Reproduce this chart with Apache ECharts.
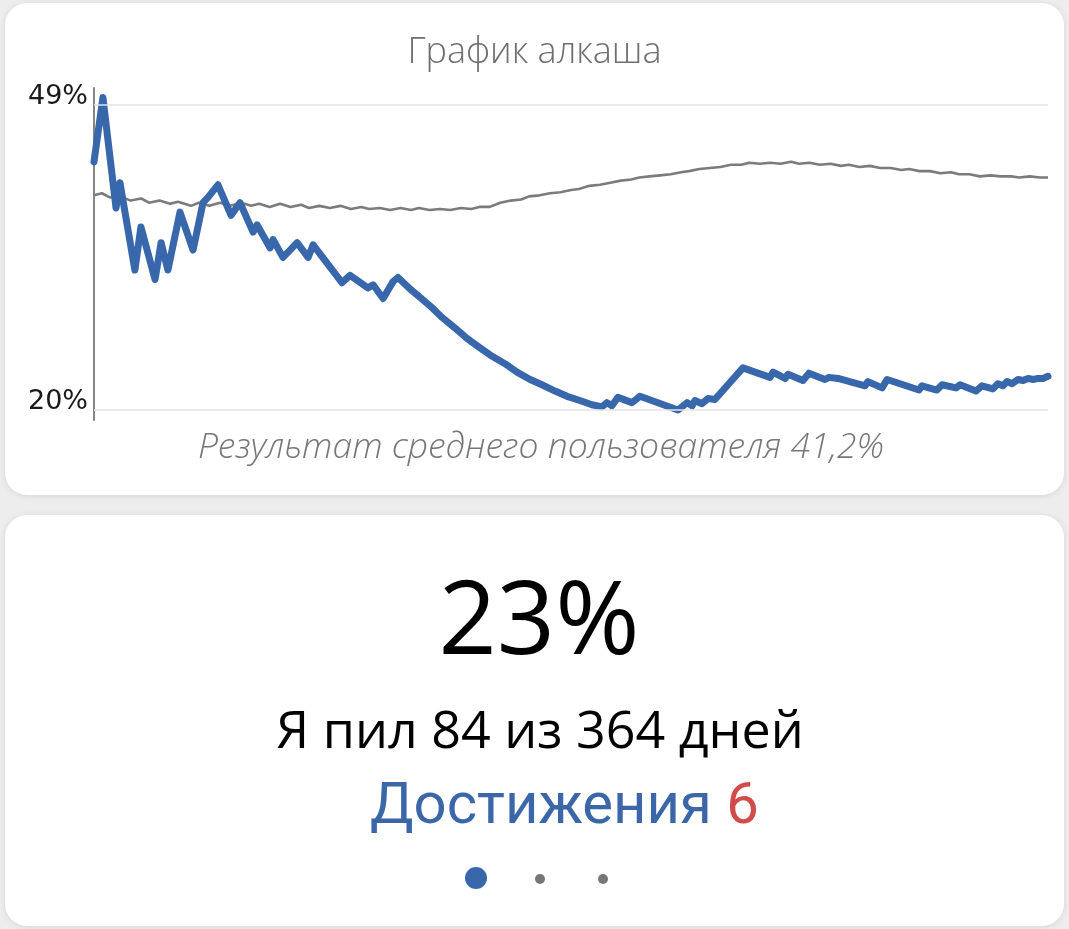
<!DOCTYPE html>
<html>
<head>
<meta charset="utf-8">
<script src="https://cdn.jsdelivr.net/npm/echarts@6/dist/echarts.min.js"></script>
<style>
html,body{margin:0;padding:0;background:#ededed;}
#chart{width:1069px;height:929px;}
</style>
</head>
<body>
<div id="chart"></div>
<script>
// ---- data ----
const titleText = 'График алкаша';
const subtitleText = 'Результат среднего пользователя 41,2%';
const bigValue = '23%';
const daysText = 'Я пил 84 из 364 дней';
const achievementsLabel = 'Достижения';
const achievementsCount = '6';
const yTickValues = [20, 49];

// my cumulative share of drinking days (day, %)
const myDays = [0, 3.4, 8.4, 9.9, 15.6, 17.9, 23.3, 25.6, 28.2, 32.8, 37.8, 41.6, 43.5, 47.3, 52.3, 55.7, 60.7, 62.2, 67.2, 68.3, 72.1, 74.8, 77.5, 81.7, 83.6, 94.6, 97.7, 104.5, 106.5, 110.3, 114.1, 116.0,
  120.6, 124.4, 128.2, 132.8, 137.7, 142.3, 147.3, 151.9, 156.8, 161.4, 166.4, 170.9, 175.9, 180.5, 185.4, 190.0,
  193.8, 195.7, 197.6, 199.9, 205.3, 208.3, 222.8, 226.3, 228.2, 229.3, 232.0, 234.3, 236.9,
  247.6, 257.9, 259.1, 263.7, 264.8, 270.5, 272.8, 278.9, 280.4, 283.9, 294.2, 295.3, 300.7, 302.6, 314.8, 315.9, 321.6, 323.6, 328.9, 330.4,
  336.5, 338.8, 343.0, 344.9, 346.8, 348.4, 350.3, 352.6, 354.5, 356.4, 358.3, 360.2, 362.1, 364];
const myValues = [43.6, 49.7, 39.2, 41.6, 33.3, 37.4, 32.4, 35.9, 33.3, 38.8, 35.2, 39.7, 40.2, 41.4, 38.5, 39.7, 36.9, 37.6, 35.4, 36.2, 34.5, 35.2, 35.9, 34.5, 35.7, 32.1, 32.8, 31.6, 31.9, 30.6, 32.2, 32.6,
  31.5, 30.7, 29.9, 28.8, 27.8, 26.8, 25.9, 25.1, 24.4, 23.6, 22.9, 22.4, 21.8, 21.3, 20.9, 20.5,
  20.3, 20.7, 20.4, 21.2, 20.7, 21.3, 20.0, 20.7, 20.4, 20.9, 20.6, 21.1, 21.0,
  24.0, 23.1, 23.6, 23.0, 23.4, 22.8, 23.5, 22.9, 23.1, 23.0, 22.3, 22.7, 22.1, 22.9, 21.9, 22.3, 21.9, 22.4, 22.1, 22.4,
  21.8, 22.3, 22.0, 22.5, 22.3, 22.7, 22.5, 22.9, 22.8, 23.0, 22.9, 23.0, 23.0, 23.2];

// average user (day, %)
const avgDays = [0, 3, 6, 10, 14, 18, 21, 25, 29, 32, 37, 40, 44, 48, 52, 56, 60, 63, 67, 71, 75, 79, 82, 86, 90, 94, 98, 102, 105, 109, 113, 117, 121, 124, 128, 132, 136, 140, 144, 147, 151,
  155, 159, 163, 166, 170, 174, 178, 182, 185, 189, 193, 197, 201, 205, 208, 212, 216, 220, 224, 227, 231, 235, 239, 243, 247, 250, 254, 258, 262, 266, 269, 273, 277, 281, 285, 288, 292, 296, 300, 304, 308, 311, 315, 319, 323, 327, 330, 334, 338, 342, 346, 350, 353, 357, 361, 364];
const avgValues = [40.4, 40.6, 40.2, 40.3, 39.9, 40.1, 39.7, 39.9, 39.6, 39.8, 39.4, 39.7, 39.4, 39.7, 39.4, 39.7, 39.4, 39.6, 39.3, 39.6, 39.3, 39.5, 39.2, 39.4, 39.2, 39.4, 39.1, 39.3, 39.1, 39.2, 39.0, 39.2, 39.0, 39.2, 39.0, 39.1, 39.0, 39.2, 39.1, 39.3, 39.3,
  39.7, 39.9, 40.0, 40.3, 40.4, 40.6, 40.7, 40.9, 41.0, 41.3, 41.4, 41.6, 41.8, 41.9, 42.1, 42.2, 42.3, 42.4, 42.6, 42.7, 42.9, 43.0, 43.1, 43.3, 43.3, 43.5, 43.4, 43.5, 43.4, 43.6, 43.4, 43.5, 43.3, 43.4, 43.2, 43.3, 43.1, 43.2, 43.0, 43.0, 42.8, 42.9, 42.7, 42.7, 42.5, 42.6, 42.4, 42.4, 42.2, 42.3, 42.2, 42.2, 42.1, 42.2, 42.1, 42.1];

// ---- chart ----
const pairs = (xs, ys) => xs.map((x, i) => [x, ys[i]]);
const chart = echarts.init(document.getElementById('chart'), null, {renderer: 'canvas'});
const FONT = '"Open Sans", "Noto Sans", sans-serif';

chart.setOption({
  animation: false,
  backgroundColor: '#ededed',
  title: {
    text: titleText,
    left: 'center',
    top: 30,
    textStyle: {fontFamily: FONT, fontWeight: 300, fontSize: 36, color: '#6e6e6e'}
  },
  grid: {left: 94, right: 21, top: 88, bottom: 509, containLabel: false},
  xAxis: {type: 'value', min: 0, max: 364, show: false},
  yAxis: {
    type: 'value', min: 19.05, max: 50.6,
    axisLine: {show: true, lineStyle: {color: '#858585', width: 2}},
    axisTick: {show: false},
    splitLine: {show: false},
    axisLabel: {
      customValues: yTickValues,
      formatter: '{value}%',
      margin: 6,
      color: '#1a1a1a',
      fontFamily: '"DejaVu Sans", sans-serif',
      fontSize: 27,
      verticalAlign: 'bottom',
      lineHeight: 16
    }
  },
  series: [
    {
      type: 'line', name: 'avg', data: pairs(avgDays, avgValues), showSymbol: false, symbol: 'none', z: 2,
      lineStyle: {color: '#7b7b7b', width: 2.6},
      markLine: {
        silent: true, symbol: 'none', label: {show: false},
        lineStyle: {color: '#e3e3e3', width: 1.5, type: 'solid'},
        data: yTickValues.map(v => ({yAxis: v}))
      }
    },
    {
      type: 'line', name: 'me', data: pairs(myDays, myValues), showSymbol: false, symbol: 'none', z: 3,
      lineStyle: {color: '#3967ab', width: 7, cap: 'round', join: 'round'}
    }
  ],
  graphic: [
    {type: 'rect', z: -10, shape: {x: 5, y: 3, width: 1059, height: 492, r: 22},
      style: {fill: '#ffffff', shadowBlur: 6, shadowColor: 'rgba(0,0,0,0.10)', shadowOffsetY: 1}},
    {type: 'rect', z: -10, shape: {x: 5, y: 515, width: 1059, height: 411, r: 22},
      style: {fill: '#ffffff', shadowBlur: 6, shadowColor: 'rgba(0,0,0,0.10)', shadowOffsetY: 1}},
    {type: 'text', x: 541, y: 448, style: {text: subtitleText, align: 'center', verticalAlign: 'middle',
      font: 'italic 300 35.5px ' + FONT, fill: '#777777'}},
    {type: 'text', x: 539, y: 625, style: {text: bigValue, align: 'center', verticalAlign: 'middle',
      font: '400 102px ' + FONT, fill: '#000000'}},
    {type: 'text', x: 540, y: 733, style: {text: daysText, align: 'center', verticalAlign: 'middle',
      font: '400 52px ' + FONT, fill: '#000000'}},
    {type: 'text', x: 370, y: 808, style: {
      text: achievementsLabel + ' {r|' + achievementsCount + '}', align: 'left', verticalAlign: 'middle',
      font: '400 58px Roboto, sans-serif', fill: '#3b67a8',
      rich: {r: {fill: '#d24b4b', font: '400 58px Roboto, sans-serif'}}}},
    {type: 'circle', shape: {cx: 476, cy: 878, r: 11}, style: {fill: '#3967ab'}},
    {type: 'circle', shape: {cx: 540, cy: 879, r: 5}, style: {fill: '#777777'}},
    {type: 'circle', shape: {cx: 603, cy: 879, r: 5}, style: {fill: '#777777'}}
  ]
});
</script>
</body>
</html>
